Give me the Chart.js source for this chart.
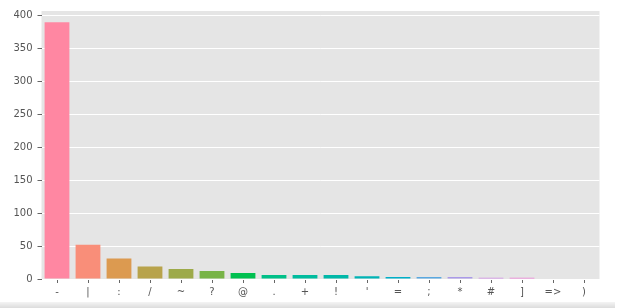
<!DOCTYPE html>
<html>
<head>
<meta charset="utf-8">
<script src="https://cdn.jsdelivr.net/npm/chart.js@4"></script>
<style>
  html, body { margin: 0; padding: 0; background: #fff; }
  #wrap { position: relative; width: 643px; height: 308px; overflow: hidden; }
  #c { position: absolute; left: 0; top: 0; }
  #band { position: absolute; left: 0; top: 302px; width: 615px; height: 6px;
          background: linear-gradient(#f4f4f4, #dcdcdc); }
</style>
</head>
<body>
<div id="wrap">
  <canvas id="c" width="643" height="308"></canvas>
  <div id="band"></div>
</div>
<script>
const categories = ['-', '|', ':', '/', '~', '?', '@', '.', '+', '!', "'", '=', ';', '*', '#', ']', '=>', ')'];
const counts = [390, 52, 31, 19, 15, 12, 9, 6, 6, 6, 4, 3, 3, 3, 2, 2, 0, 0];
const barColors = ['#ff87a2', '#f98e79', '#dc9a50', '#b8a34b', '#9daa49', '#78b447', '#00c050',
  '#00c088', '#00bc9e', '#00b8a8', '#00b3b5', '#00afc8', '#5aa8e0', '#aa9ae8', '#d28be8', '#f07fd8', '#ff82c4', '#ff86b0'];
const yTicks = [0, 50, 100, 150, 200, 250, 300, 350, 400];
const yMax = 407;

const font = { family: 'DejaVu Sans', size: 10 };
new Chart(document.getElementById('c'), {
  type: 'bar',
  data: {
    labels: categories,
    datasets: [{ data: counts, backgroundColor: barColors, borderWidth: 0,
                 categoryPercentage: 0.8, barPercentage: 1.0 }]
  },
  plugins: [{
    id: 'bg',
    beforeDraw(chart) {
      const { ctx, chartArea: a } = chart;
      ctx.save();
      ctx.fillStyle = '#e5e5e5';
      ctx.fillRect(a.left, a.top, a.right - a.left, a.bottom - a.top);
      ctx.restore();
    }
  }],
  options: {
    responsive: false,
    animation: false,
    layout: { padding: { top: 7, right: 43.5, left: 0, bottom: 0 } },
    plugins: { legend: { display: false }, tooltip: { enabled: false } },
    scales: {
      x: {
        offset: true,
        border: { display: false },
        grid: { offset: false, drawOnChartArea: false, drawTicks: true, tickLength: 4, tickColor: '#666', lineWidth: 1 },
        ticks: { font, color: '#555', padding: 3, maxRotation: 0, autoSkip: false },
        afterFit(s) { s.height = 29; }
      },
      y: {
        min: 0, max: yMax,
        border: { display: false },
        grid: { color: '#ffffff', lineWidth: 1, tickLength: 4, tickColor: '#666' },
        ticks: { font, color: '#555', padding: 5, stepSize: 50 },
        afterBuildTicks(s) { s.ticks = yTicks.map(v => ({ value: v })); },
        afterFit(s) { s.width = 41.5; }
      }
    }
  }
});
</script>
</body>
</html>
